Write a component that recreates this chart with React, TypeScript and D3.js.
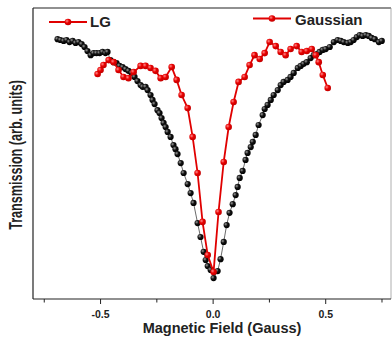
import React from "react";
import * as d3 from "d3";

// Black series (field in Gauss, transmission arb. units)
const blackX = [-0.691,-0.678,-0.664,-0.651,-0.638,-0.624,-0.611,-0.598,-0.584,-0.571,-0.558,-0.544,-0.531,-0.518,-0.504,-0.491,-0.478,-0.469,-0.456,-0.442,-0.429,-0.416,-0.402,-0.389,-0.376,-0.362,-0.349,-0.336,-0.322,-0.313,-0.300,-0.291,-0.278,-0.269,-0.260,-0.247,-0.238,-0.229,-0.220,-0.211,-0.202,-0.189,-0.176,-0.167,-0.158,-0.144,-0.131,-0.113,-0.100,-0.087,-0.069,-0.056,-0.042,-0.033,-0.024,-0.011,0.002,0.020,0.033,0.047,0.060,0.073,0.087,0.100,0.109,0.118,0.131,0.144,0.153,0.167,0.176,0.189,0.202,0.220,0.229,0.242,0.256,0.269,0.287,0.300,0.313,0.331,0.344,0.358,0.376,0.389,0.402,0.416,0.433,0.447,0.460,0.473,0.487,0.500,0.518,0.536,0.553,0.567,0.580,0.598,0.611,0.624,0.638,0.651,0.664,0.678,0.691,0.704,0.718,0.736,0.749];
const blackY = [0.893,0.890,0.887,0.890,0.883,0.887,0.880,0.883,0.876,0.866,0.852,0.838,0.845,0.845,0.845,0.849,0.845,0.849,0.821,0.814,0.811,0.801,0.797,0.790,0.784,0.777,0.763,0.749,0.735,0.729,0.729,0.718,0.701,0.684,0.670,0.649,0.639,0.622,0.605,0.591,0.574,0.557,0.529,0.515,0.498,0.467,0.433,0.395,0.364,0.330,0.261,0.213,0.162,0.134,0.113,0.100,0.072,0.096,0.137,0.196,0.254,0.296,0.326,0.357,0.385,0.416,0.440,0.478,0.502,0.522,0.540,0.564,0.598,0.632,0.653,0.667,0.684,0.701,0.718,0.735,0.746,0.753,0.763,0.777,0.794,0.801,0.808,0.814,0.828,0.838,0.842,0.849,0.856,0.859,0.866,0.883,0.890,0.887,0.883,0.880,0.883,0.890,0.900,0.907,0.904,0.907,0.904,0.897,0.893,0.883,0.887];

// Red series
const redX = [-0.513,-0.500,-0.487,-0.464,-0.442,-0.420,-0.398,-0.376,-0.353,-0.322,-0.300,-0.278,-0.256,-0.233,-0.211,-0.184,-0.162,-0.140,-0.113,-0.091,-0.069,-0.047,-0.024,0.002,0.024,0.047,0.069,0.091,0.113,0.140,0.162,0.184,0.207,0.229,0.251,0.278,0.300,0.322,0.344,0.371,0.393,0.416,0.438,0.456,0.469,0.487,0.509];
const redY = [0.773,0.787,0.804,0.821,0.814,0.787,0.763,0.759,0.780,0.801,0.801,0.794,0.784,0.759,0.763,0.797,0.753,0.701,0.656,0.557,0.433,0.265,0.151,0.093,0.299,0.471,0.591,0.677,0.746,0.763,0.804,0.838,0.825,0.845,0.883,0.869,0.849,0.838,0.859,0.869,0.849,0.852,0.859,0.838,0.814,0.770,0.725];

const majorTicks = [-0.5, 0.0, 0.5];
const tickLabels = ["-0.5", "0.0", "0.5"];
const minorTicks = [-0.75, -0.25, 0.25, 0.75];
const legendLabels = ["LG", "Gaussian"];

const W = 392, H = 337;
const L = 33, R = 391, T = 8, B = 299;
const FONT = "'Liberation Sans', Arial, Helvetica, sans-serif";

export default function App() {
  const x = d3.scaleLinear().domain([-0.8, 0.79]).range([L, R]);
  const y = d3.scaleLinear().domain([0, 1]).range([B, T]);

  const black = blackX.map((v, i) => [v, blackY[i]] as [number, number]);
  const red = redX.map((v, i) => [v, redY[i]] as [number, number]);
  const line = d3.line<[number, number]>().x(d => x(d[0])).y(d => y(d[1]));

  return (
    <svg width={W} height={H} style={{ position: "absolute", left: 0, top: 0, background: "#fff" }}>
      <defs>
        <radialGradient id="gb" cx="0.35" cy="0.35" r="0.7">
          <stop offset="0" stopColor="#9a9a9a" />
          <stop offset="0.45" stopColor="#111" />
          <stop offset="1" stopColor="#000" />
        </radialGradient>
        <radialGradient id="gr" cx="0.35" cy="0.35" r="0.7">
          <stop offset="0" stopColor="#ff8a8a" />
          <stop offset="0.45" stopColor="#e80000" />
          <stop offset="1" stopColor="#c00000" />
        </radialGradient>
      </defs>
      <rect x={0} y={0} width={W} height={H} fill="#fff" />
      {/* frame */}
      <line x1={L} y1={T} x2={R} y2={T} stroke="#222" strokeWidth={1.2} />
      <line x1={R} y1={T} x2={R} y2={B} stroke="#999" strokeWidth={0.8} />
      <line x1={L} y1={T} x2={L} y2={B} stroke="#222" strokeWidth={1.2} />
      <line x1={L} y1={B} x2={R} y2={B} stroke="#222" strokeWidth={1.2} />
      {majorTicks.map((t, i) => (
        <g key={"M" + i}>
          <line x1={x(t)} x2={x(t)} y1={B} y2={B + 5} stroke="#222" strokeWidth={1} />
          <text x={x(t)} y={318} textAnchor="middle" fontFamily={FONT} fontWeight="bold" fontSize={10.5} fill="#222">{tickLabels[i]}</text>
        </g>
      ))}
      {minorTicks.map((t, i) => (
        <line key={"m" + i} x1={x(t)} x2={x(t)} y1={B} y2={B + 3.5} stroke="#222" strokeWidth={1} />
      ))}
      {/* black series */}
      <path d={line(black) || ""} fill="none" stroke="#444" strokeWidth={0.8} />
      {black.map((d, i) => (
        <circle key={"b" + i} cx={x(d[0])} cy={y(d[1])} r={3.1} fill="url(#gb)" />
      ))}
      {/* red series */}
      <path d={line(red) || ""} fill="none" stroke="#e00000" strokeWidth={1.8} />
      {red.map((d, i) => (
        <circle key={"r" + i} cx={x(d[0])} cy={y(d[1])} r={3.3} fill="url(#gr)" />
      ))}
      {/* legend */}
      <line x1={49} x2={87} y1={22} y2={22} stroke="#e00000" strokeWidth={1.8} />
      <circle cx={68} cy={22} r={3.3} fill="url(#gr)" />
      <text x={90} y={27} fontFamily={FONT} fontWeight="bold" fontSize={15} fill="#222">{legendLabels[0]}</text>
      <line x1={253} x2={291} y1={18.5} y2={18.5} stroke="#e00000" strokeWidth={1.8} />
      <circle cx={272} cy={18.5} r={3.3} fill="url(#gr)" />
      <text x={295} y={25} fontFamily={FONT} fontWeight="bold" fontSize={15} fill="#222">{legendLabels[1]}</text>
      {/* axis titles */}
      <text x={222} y={333} textAnchor="middle" fontFamily={FONT} fontWeight="bold" fontSize={14.5} fill="#222">Magnetic Field (Gauss)</text>
      <text transform="translate(22,155) rotate(-90) scale(1,1.4)" textAnchor="middle" fontFamily={FONT} fontWeight="bold" fontSize={12.6} fill="#222">Transmission (arb. units)</text>
    </svg>
  );
}
